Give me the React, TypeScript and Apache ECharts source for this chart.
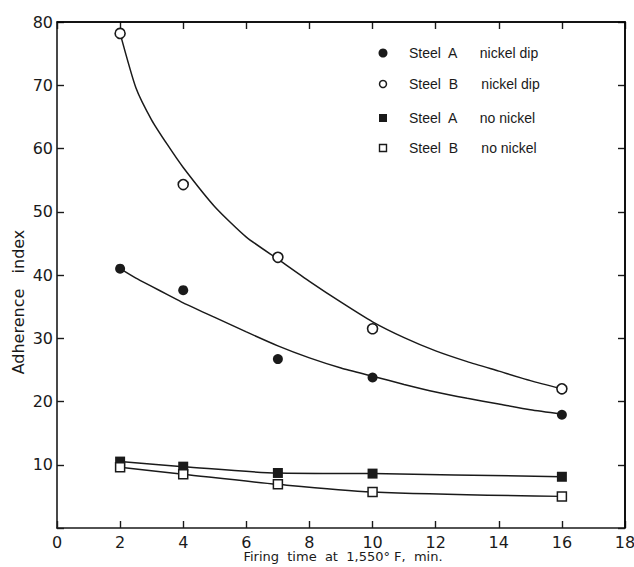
import React, { useEffect, useRef } from "react";
import * as echarts from "echarts";

// Firing times (min)
const times = [2, 4, 7, 10, 16];

// Measured adherence index values
const steelANickel = [41.0, 37.6, 26.7, 23.8, 17.9];
const steelBNickel = [78.2, 54.3, 42.8, 31.5, 22.0];
const steelANoNickel = [10.5, 9.7, 8.7, 8.6, 8.1];
const steelBNoNickel = [9.6, 8.5, 6.9, 5.7, 5.0];

// Fitted curves
const curveX = [2, 2.5, 3, 3.5, 4, 5, 6, 7, 8, 9, 10, 11, 12, 13, 14, 15, 16];
const curveB = [78.2, 69.6, 64.5, 60.6, 57.0, 50.8, 46.0, 42.5, 39.0, 35.7, 32.6, 30.1, 28.0, 26.3, 24.8, 23.3, 22.0];
const curveA = [41.0, 39.5, 38.2, 36.9, 35.6, 33.3, 31.0, 28.8, 26.9, 25.3, 24.0, 22.7, 21.5, 20.5, 19.6, 18.7, 18.0];

const legendNames = [
  "Steel  A      nickel dip",
  "Steel  B      nickel dip",
  "Steel  A      no nickel",
  "Steel  B      no nickel",
];

const xTitle = "Firing  time  at  1,550° F,  min.";
const yTitle = "Adherence   index";

const INK = "#1a1a1a";
const FONT = "DejaVu Sans";

const GRID = { left: 57, right: 9, top: 22, bottom: 39 };
const W = 634;
const H = 567;

export default function App() {
  const ref = useRef<HTMLDivElement>(null);
  useEffect(() => {
    if (!ref.current) return;
    const chart = echarts.init(ref.current, null, { renderer: "svg" });
    const pair = (xs: number[], ys: number[]) => xs.map((x, i) => [x, ys[i]]);
    const mkLine = () => ({ show: true, onZero: false, lineStyle: { color: INK, width: 1.6 } });
    const mkTick = () => ({ show: true, inside: true, length: 7, lineStyle: { color: INK, width: 1.4 } });

    const right = W - GRID.right;
    const bottom = H - GRID.bottom;
    const legendY = [53, 84, 118, 148];
    const legendSymX = 383;
    const graphics: any[] = [
      {
        type: "polyline",
        shape: { points: [[GRID.left, GRID.top], [right, GRID.top], [right, bottom]] },
        style: { fill: null, stroke: "#000", lineWidth: 1.5 },
        z: 20,
      },
      { type: "circle", shape: { cx: legendSymX, cy: legendY[0], r: 4.5 }, style: { fill: INK } },
      { type: "circle", shape: { cx: legendSymX, cy: legendY[1], r: 3.5 }, style: { fill: "#fff", stroke: INK, lineWidth: 1.5 } },
      { type: "rect", shape: { x: legendSymX - 4, y: legendY[2] - 4, width: 8, height: 8 }, style: { fill: INK } },
      { type: "rect", shape: { x: legendSymX - 3.5, y: legendY[3] - 3.5, width: 7, height: 7 }, style: { fill: "#fff", stroke: INK, lineWidth: 1.4 } },
      ...legendNames.map((n, i) => ({
        type: "text",
        x: 409,
        y: legendY[i],
        style: { text: n, fill: INK, font: `14px "Liberation Sans"`, textVerticalAlign: "middle" },
      })),
      {
        type: "text",
        x: 18,
        y: 302,
        rotation: Math.PI / 2,
        style: { text: yTitle, fill: INK, font: `16px "DejaVu Sans"`, textAlign: "center", textVerticalAlign: "middle" },
      },
      {
        type: "text",
        x: 343,
        y: 556,
        style: { text: xTitle, fill: INK, font: `13px "DejaVu Sans"`, textAlign: "center", textVerticalAlign: "middle" },
      },
    ];

    chart.setOption({
      animation: false,
      backgroundColor: "#fff",
      grid: { ...GRID, outerBoundsMode: "none", containLabel: false },
      xAxis: [
        {
          type: "value",
          min: 0,
          max: 18,
          interval: 2,
          position: "bottom",
          axisLine: mkLine(),
          axisTick: mkTick(),
          splitLine: { show: false },
          axisLabel: { color: INK, fontFamily: FONT, fontSize: 16, margin: 6 },
        },
        {
          type: "value",
          min: 0,
          max: 18,
          interval: 2,
          position: "top",
          show: true,
          axisLine: mkLine(),
          axisTick: mkTick(),
          splitLine: { show: false },
          axisLabel: { show: false },
        },
      ],
      yAxis: [
        {
          type: "value",
          min: 0,
          max: 80,
          interval: 10,
          position: "left",
          axisLine: mkLine(),
          axisTick: mkTick(),
          splitLine: { show: false },
          axisLabel: {
            color: INK,
            fontFamily: FONT,
            fontSize: 16,
            margin: 4,
            formatter: (v: number) => (v === 0 ? "" : String(v)),
          },
        },
        {
          type: "value",
          min: 0,
          max: 80,
          interval: 10,
          position: "right",
          show: true,
          axisLine: mkLine(),
          axisTick: mkTick(),
          splitLine: { show: false },
          axisLabel: { show: false },
        },
      ],
      series: [
        {
          name: "curveB",
          type: "line",
          xAxisIndex: 1,
          yAxisIndex: 1,
          data: pair(curveX, curveB),
          smooth: 0.2,
          showSymbol: false,
          lineStyle: { color: INK, width: 1.5 },
          z: 2,
        },
        {
          name: "curveA",
          type: "line",
          data: pair(curveX, curveA),
          smooth: 0.2,
          showSymbol: false,
          lineStyle: { color: INK, width: 1.5 },
          z: 2,
        },
        {
          name: legendNames[0],
          type: "scatter",
          data: pair(times, steelANickel),
          symbol: "circle",
          symbolSize: 10,
          itemStyle: { color: INK, opacity: 1 },
          z: 3,
        },
        {
          name: legendNames[1],
          type: "scatter",
          data: pair(times, steelBNickel),
          symbol: "circle",
          symbolSize: 10,
          itemStyle: { color: "#fff", borderColor: INK, borderWidth: 1.6, opacity: 1 },
          z: 3,
        },
        {
          name: legendNames[2],
          type: "line",
          data: pair(times, steelANoNickel),
          smooth: 0.3,
          symbol: "rect",
          symbolSize: 10,
          lineStyle: { color: INK, width: 1.5 },
          itemStyle: { color: INK },
          z: 3,
        },
        {
          name: legendNames[3],
          type: "line",
          data: pair(times, steelBNoNickel),
          smooth: 0.3,
          symbol: "rect",
          symbolSize: 9,
          lineStyle: { color: INK, width: 1.5 },
          itemStyle: { color: "#fff", borderColor: INK, borderWidth: 1.5 },
          z: 3,
        },
      ],
      graphic: graphics,
    });
    return () => chart.dispose();
  }, []);
  return (
    <div
      ref={ref}
      style={{ position: "fixed", left: 0, top: 0, width: W, height: H, background: "#fff" }}
    />
  );
}
